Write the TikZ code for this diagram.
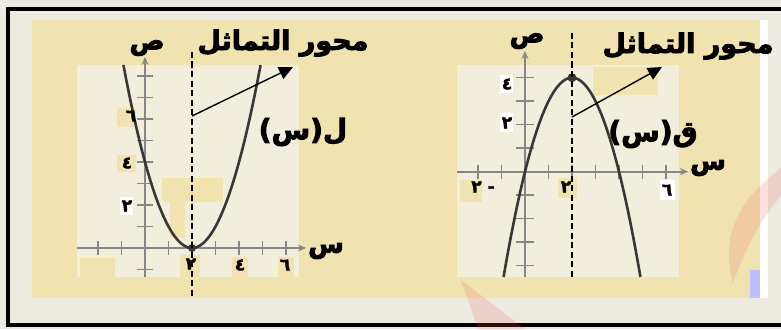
\documentclass[tikz,border=0pt]{standalone}
\usepackage{fontspec}
\newfontfamily\arabicfont[Script=Arabic,FakeBold=3.2]{DejaVu Sans Bold}
\newfontfamily\arabicnum[Script=Arabic,FakeBold=2]{DejaVu Sans Bold}
\TeXXeTstate=1
\usetikzlibrary{arrows.meta}
\definecolor{bggrey}{RGB}{237,234,225}
\definecolor{khaki}{RGB}{240,227,176}
\definecolor{plotbg}{RGB}{242,238,220}
\definecolor{axisgrey}{RGB}{135,135,135}
\definecolor{curvegrey}{RGB}{55,55,55}
\definecolor{wmred}{RGB}{240,90,90}
\begin{document}
\begin{tikzpicture}[x=1pt,y=-1pt,
  axis/.style={axisgrey,line width=1.8pt,-{Stealth[length=8pt,width=7pt]}},
  tick/.style={axisgrey,line width=1.5pt},
  curve/.style={curvegrey,line width=2.6pt},
  symline/.style={black,line width=1.5pt,dash pattern=on 6pt off 3.5pt},
  pointer/.style={black,line width=1.4pt,-{Triangle[length=14pt,width=13pt]}},
  title/.style={font=\arabicfont\fontsize{27}{30}\selectfont,inner sep=0pt},
  fname/.style={font=\arabicfont\fontsize{28}{32}\selectfont,inner sep=0pt},
  axlabel/.style={font=\arabicfont\fontsize{26}{30}\selectfont,inner sep=0pt},
  num/.style={font=\arabicnum\fontsize{17}{20}\selectfont,inner sep=0pt}]
\useasboundingbox (0,0) rectangle (781,329);
% backgrounds
\fill[bggrey] (0,0) rectangle (781,329);
\fill[khaki] (32,20) rectangle (760,298);
\fill[white] (760,20) rectangle (768,298);
\draw[black,line width=4pt] (7.5,9.5) rectangle (800,325);
% ---------- left graph ----------
\fill[plotbg] (77,65) rectangle (299,277);
\fill[khaki] (162,178) rectangle (223,202);
\fill[khaki] (170,202) rectangle (185,238);
\fill[khaki] (80,258) rectangle (115,277);
\fill[khaki] (117,108) rectangle (136,127);
\fill[khaki] (117,155) rectangle (136,172);
\fill[khaki] (180,255) rectangle (200,277);
\fill[khaki] (232,257) rectangle (248,277);
\fill[khaki] (278,257) rectangle (294,277);
\fill[white] (120,197) rectangle (133,215);
\foreach \u in {-2,-1,1,2,3,4,5,6} \draw[tick] ({145+23.5*\u},241) -- ({145+23.5*\u},255);
\foreach \v in {-1,1,2,3,4,5,6,7,8} \draw[tick] (137,{248-21.5*\v}) -- (153,{248-21.5*\v});
\coordinate (lxs) at (77,248); \coordinate (lxe) at (306,248);
\coordinate (lys) at (145,277); \coordinate (lye) at (145,57);
\draw[axis] (lxs) -- (lxe);
\draw[axis] (lys) -- (lye);
\draw[curve] plot[domain=-0.917:4.917,samples=80,smooth] ({145+23.5*\x},{248-21.5*(\x-2)^2});
\fill[curvegrey] (192,248) circle (4pt);
\coordinate (lds) at (192,52); \coordinate (lde) at (192,298);
\draw[symline] (lds) -- (lde);
\node[num] (lx2) at (191,264) {٢};
\node[num] (lx4) at (240,265) {٤};
\node[num] (lx6) at (285,265) {٦};
\node[num] (ly2) at (127,206) {٢};
\node[num] (ly4) at (127,163) {٤};
\node[num] (ly6) at (131,116) {٦};
\node[axlabel] (lxl) at (326,251) {س};
\node[axlabel] (lyl) at (147,48) {ص};
\node[title] (lt) at (283,43) {\beginR محور التماثل\endR};
\node[fname] (lf) at (303,132) {\beginR ل(س)\endR};
\coordinate (la1) at (192,116); \coordinate (la2) at (293,67);
\draw[pointer] (la1) -- (la2);
% ---------- right graph ----------
\fill[plotbg] (457,65) rectangle (679,277);
\fill[khaki] (593,67) rectangle (658,95);
\fill[khaki] (460,180) rectangle (482,202);
\fill[khaki] (558,178) rectangle (577,198);
\fill[white] (500,75) rectangle (513,93);
\fill[white] (500,113) rectangle (513,132);
\fill[white] (660,180) rectangle (675,200);
\foreach \u in {-2,-1,1,2,3,4,5,6} \draw[tick] ({525+23.5*\u},164.7) -- ({525+23.5*\u},178.7);
\foreach \v in {-4,-3,-2,-1,1,2,3,4} \draw[tick] (516,{171.7-23.5*\v}) -- (534,{171.7-23.5*\v});
\coordinate (rxs) at (457,171.7); \coordinate (rxe) at (688,171.7);
\coordinate (rys) at (525,277); \coordinate (rye) at (525,51);
\draw[axis] (rxs) -- (rxe);
\draw[axis] (rys) -- (rye);
\draw[curve] plot[domain=-0.912:4.912,samples=80,smooth] ({525+23.5*\x},{171.7-23.5*(4-(\x-2)^2)});
\fill[curvegrey] (572,77.7) circle (4.5pt);
\coordinate (rds) at (572,33); \coordinate (rde) at (572,277);
\draw[symline] (rds) -- (rde);
\node[num] (ry4) at (507,84) {٤};
\node[num] (ry2) at (507,123) {٢};
\node[num] (rxm2) at (483,187) {\beginR -\ ٢\endR};
\node[num] (rx2) at (566,187) {٢};
\node[num] (rx6) at (667,190) {٦};
\node[axlabel] (rxl) at (708,168) {س};
\node[axlabel] (ryl) at (527,41) {ص};
\node[title] (rt) at (688,46) {\beginR محور التماثل\endR};
\node[fname] (rf) at (653,134) {\beginR ق(س)\endR};
\coordinate (ra1) at (572,117); \coordinate (ra2) at (662,67);
\draw[pointer] (ra1) -- (ra2);
% small icon
\fill[blue!25] (750,270) rectangle (760,298);
% watermark
\fill[wmred,opacity=0.18] (781,168) .. controls (745,195) and (718,230) .. (733,283)
   .. controls (745,250) and (760,220) .. (781,196) -- cycle;
\fill[wmred,opacity=0.18] (461,280) -- (525,329) -- (478,329) -- cycle;
\end{tikzpicture}
\end{document}
